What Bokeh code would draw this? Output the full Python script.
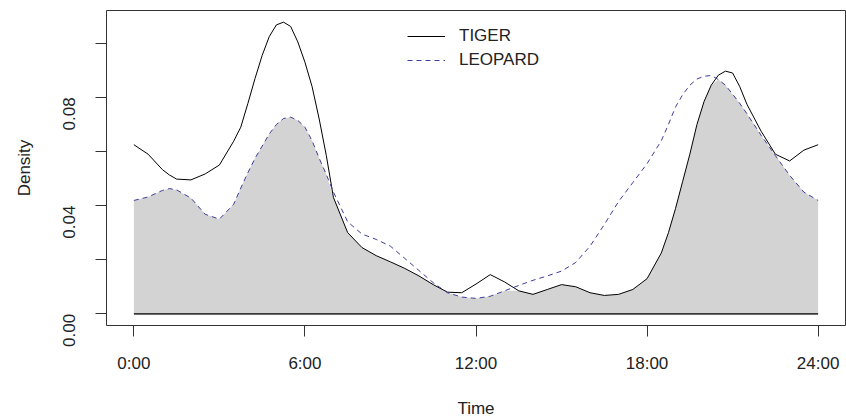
import numpy as np
from bokeh.plotting import figure
from bokeh.models import FixedTicker, NumeralTickFormatter, Legend, LegendItem, Range1d
from bokeh.embed import file_html
from bokeh.resources import INLINE

# ---- data ----
hours = [0.0, 0.5, 1.0, 1.25, 1.5, 2.0, 2.5, 3.0, 3.5, 3.75, 4.0, 4.25, 4.5, 4.75, 5.0, 5.25,
         5.5, 5.75, 6.0, 6.25, 6.5, 6.75, 7.0, 7.5, 8.0, 8.5, 9.0, 9.5, 10.0, 10.5, 11.0,
         11.5, 12.0, 12.5, 13.0, 13.5, 14.0, 14.5, 15.0, 15.5, 16.0, 16.5, 17.0, 17.5,
         18.0, 18.5, 18.75, 19.0, 19.25, 19.5, 19.75, 20.0, 20.25, 20.5, 20.75, 21.0,
         21.25, 21.5, 22.0, 22.5, 23.0, 23.5, 24.0]
tiger = [0.0625, 0.0590, 0.0533, 0.0513, 0.0498, 0.0495, 0.0517, 0.0550, 0.0638, 0.0690,
         0.0778, 0.0870, 0.0955, 0.1025, 0.1068, 0.1078, 0.1062, 0.1005, 0.0930, 0.0840,
         0.0720, 0.0585, 0.0430, 0.0300, 0.0245, 0.0215, 0.0192, 0.0168, 0.0140, 0.0108,
         0.0080, 0.0078, 0.0110, 0.0145, 0.0118, 0.0085, 0.0072, 0.0090, 0.0108, 0.0100,
         0.0078, 0.0068, 0.0072, 0.0090, 0.0130, 0.0225, 0.0300, 0.0390, 0.0490, 0.0590,
         0.0700, 0.0785, 0.0845, 0.0882, 0.0897, 0.0890, 0.0840, 0.0775, 0.0675, 0.0590,
         0.0565, 0.0605, 0.0625]
leopard = [0.0419, 0.0432, 0.0456, 0.0463, 0.0458, 0.0428, 0.0368, 0.0350, 0.0405, 0.0465,
           0.0522, 0.0575, 0.0620, 0.0665, 0.0700, 0.0722, 0.0727, 0.0715, 0.0690, 0.0640,
           0.0575, 0.0515, 0.0450, 0.0340, 0.0295, 0.0275, 0.0250, 0.0205, 0.0160, 0.0115,
           0.0078, 0.0062, 0.0057, 0.0065, 0.0085, 0.0105, 0.0124, 0.0140, 0.0158, 0.0190,
           0.0250, 0.0330, 0.0415, 0.0485, 0.0555, 0.0640, 0.0700, 0.0765, 0.0810, 0.0845,
           0.0868, 0.0878, 0.0881, 0.0866, 0.0845, 0.0812, 0.0778, 0.0740, 0.0660, 0.0585,
           0.0512, 0.0450, 0.0419]
series_names = ["TIGER", "LEOPARD"]
x_ticks = [0, 6, 12, 18, 24]
x_tick_labels = ["0:00", "6:00", "12:00", "18:00", "24:00"]
y_major = [0.0, 0.04, 0.08]
y_minor = [0.02, 0.06, 0.10]

FONT = "Liberation Sans"
TXT = "#222222"

overlap = np.minimum(np.array(tiger), np.array(leopard))

p = figure(width=846, height=420, output_backend="svg", toolbar_location=None,
           x_range=Range1d(-0.96, 24.96), y_range=Range1d(-0.00431, 0.11211),
           min_border_left=106, min_border_right=1, min_border_top=10, min_border_bottom=95)
p.grid.visible = False
p.outline_line_color = "#333333"
p.outline_line_width = 1
p.background_fill_color = "white"
p.border_fill_color = "white"

p.varea(x=hours, y1=0, y2=overlap, fill_color="#d3d3d3")
p.line(x=[hours[0], hours[-1]], y=[0, 0], line_color="#3a3a3a", line_width=1.6)
r_t = p.line(x=hours, y=tiger, line_color="black", line_width=1)
r_l = p.line(x=hours, y=leopard, line_color="#3d3d9e", line_width=1, line_dash="5 4")

# axes
xa = p.xaxis[0]
xa.ticker = FixedTicker(ticks=x_ticks)
xa.major_label_overrides = {t: l for t, l in zip(x_ticks, x_tick_labels)}
ya = p.yaxis[0]
ya.ticker = FixedTicker(ticks=y_major, minor_ticks=y_minor)
ya.formatter = NumeralTickFormatter(format="0.00")
ya.major_label_orientation = np.pi / 2
for ax in (xa, ya):
    ax.axis_line_color = None
    ax.major_tick_in = 0
    ax.major_tick_out = 11
    ax.major_tick_line_color = "#333333"
    ax.major_label_text_font = FONT
    ax.major_label_text_font_size = "17px"
    ax.major_label_text_color = TXT
    ax.axis_label_text_font = FONT
    ax.axis_label_text_font_size = "17px"
    ax.axis_label_text_font_style = "normal"
    ax.axis_label_text_color = TXT
xa.minor_tick_line_color = None
ya.minor_tick_in = 0
ya.minor_tick_out = 11
ya.minor_tick_line_color = "#333333"
xa.axis_label = "Time"
ya.axis_label = "Density"
xa.major_label_standoff = 17
xa.axis_label_standoff = 23
ya.major_label_standoff = 26
ya.axis_label_standoff = 21

legend = Legend(items=[LegendItem(label=series_names[0], renderers=[r_t]),
                       LegendItem(label=series_names[1], renderers=[r_l])],
                location=(301, 253), orientation="vertical",
                glyph_width=38, glyph_height=24, label_standoff=14, spacing=0,
                padding=0, margin=0, border_line_color=None, background_fill_alpha=0,
                label_text_font=FONT, label_text_font_size="17px", label_text_color=TXT,
                label_height=24)
p.add_layout(legend)

open("out.html", "w").write(file_html(p, INLINE))
